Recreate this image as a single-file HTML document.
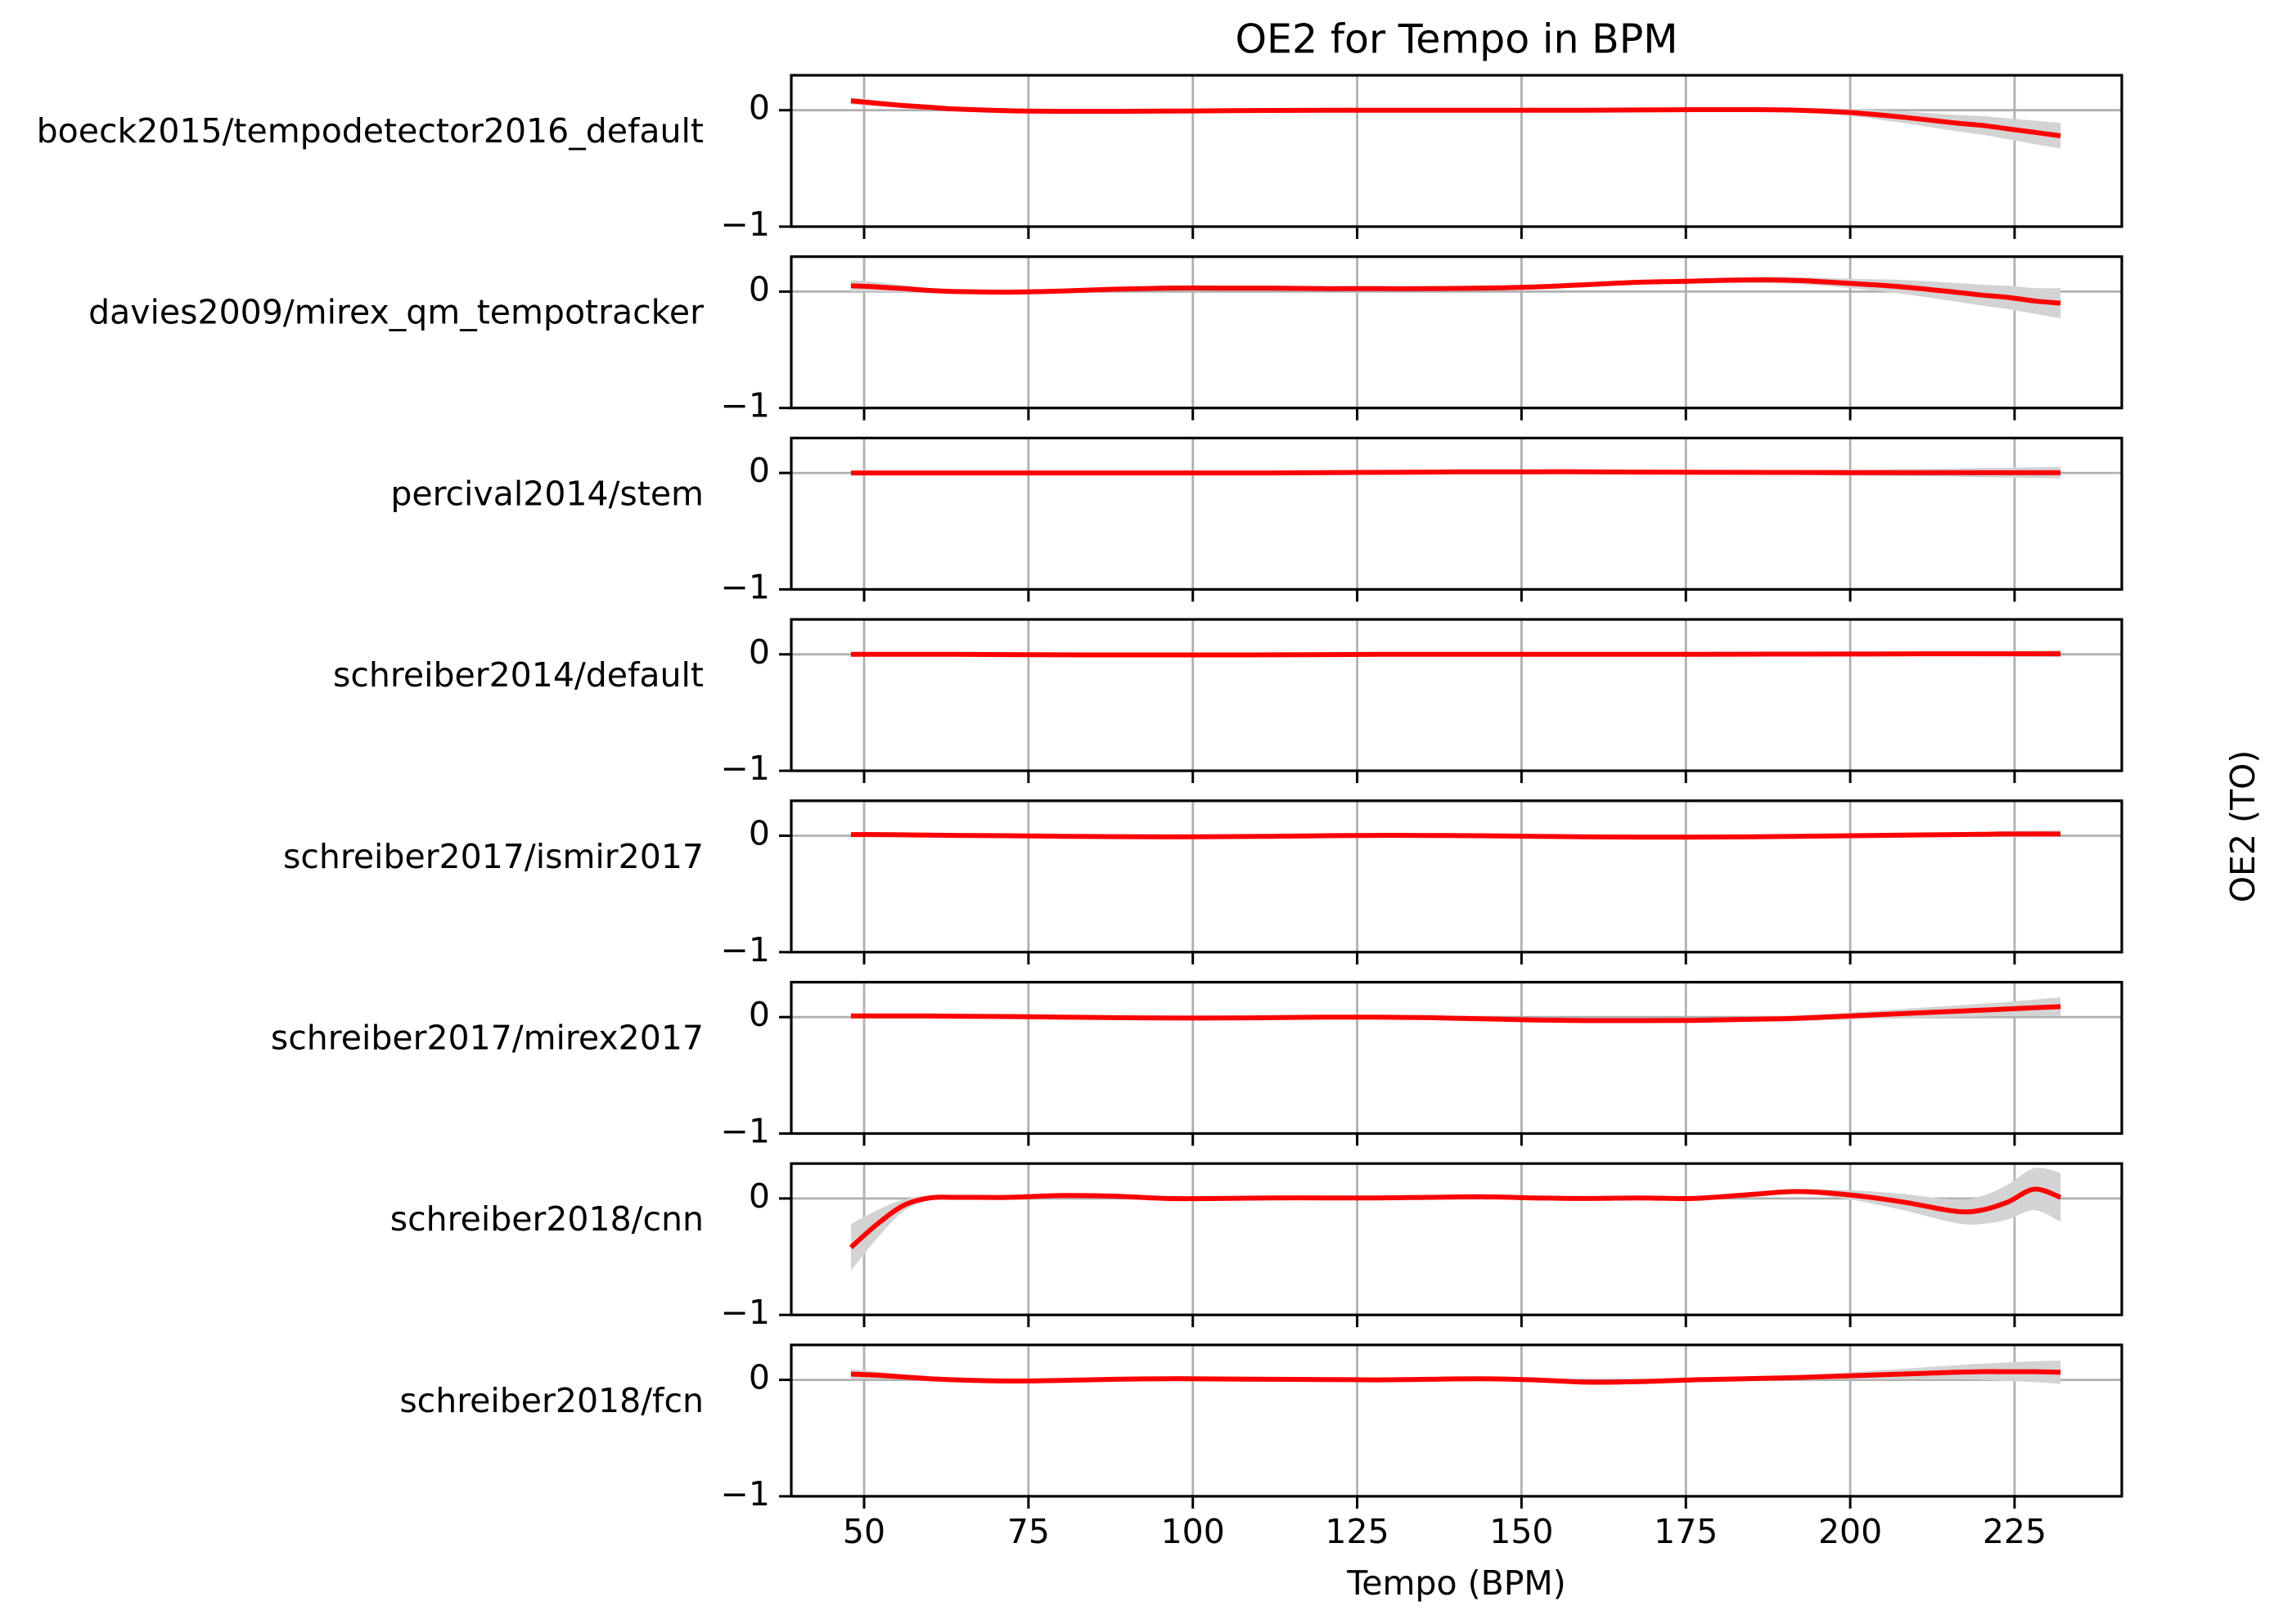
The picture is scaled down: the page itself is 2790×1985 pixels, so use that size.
<!DOCTYPE html>
<html><head><meta charset="utf-8"><style>
html,body{margin:0;padding:0;background:#fff;}
svg{display:block;font-family:"DejaVu Sans","Liberation Sans",sans-serif;}
</style></head><body>
<svg id="chart" width="2790" height="1985" viewBox="0 0 2790 1985" xmlns="http://www.w3.org/2000/svg">
<rect width="2790" height="1985" fill="#fff"/>
<text x="1780" y="51" font-size="49" text-anchor="middle" dominant-baseline="middle">OE2 for Tempo in BPM</text>
<text x="1780" y="1938" font-size="41" text-anchor="middle" dominant-baseline="middle">Tempo (BPM)</text>
<text x="0" y="0" font-size="41" text-anchor="middle" dominant-baseline="middle" transform="translate(2744,1010) rotate(-90)">OE2 (TO)</text>
<g id="panels"></g>
</svg>
<script>
const bpms = [48,52,56,60,64,72,80,88,96,104,112,120,128,136,144,152,160,168,176,184,192,200,208,216,220,224,228,232];
const systems = ["boeck2015/tempodetector2016_default","davies2009/mirex_qm_tempotracker","percival2014/stem","schreiber2014/default","schreiber2017/ismir2017","schreiber2017/mirex2017","schreiber2018/cnn","schreiber2018/fcn"];
const xTicks = [50,75,100,125,150,175,200,225];
const yTicks = [0,-1];
const boeckVals = [.08,.06,.04,.025,.01,-.005,-.01,-.01,-.008,-.005,-.002,0,0,0,0,0,0,.002,.005,.005,0,-.02,-.06,-.11,-.13,-.16,-.19,-.22];
const boeckBand = [.03,.025,.02,.015,.012,.01,.01,.01,.01,.01,.01,.01,.01,.01,.01,.01,.01,.01,.01,.015,.02,.03,.05,.07,.08,.09,.1,.11];
const daviesVals = [.05,.04,.025,.01,0,-.005,.005,.02,.03,.03,.03,.025,.025,.025,.03,.04,.06,.08,.09,.1,.095,.07,.04,-.005,-.03,-.05,-.08,-.1];
const daviesBand = [.05,.04,.03,.02,.015,.01,.01,.01,.01,.01,.01,.01,.01,.01,.01,.01,.015,.015,.02,.025,.03,.04,.06,.08,.09,.1,.11,.13];
const percivalVals = [0,0,0,0,0,0,0,0,0,0,0,.003,.005,.008,.01,.01,.01,.008,.006,.005,.004,.003,.003,.003,.003,.003,.003,.003];
const percivalBand = [.006,.005,.005,.005,.005,.005,.005,.005,.005,.005,.005,.005,.005,.005,.006,.007,.008,.01,.012,.015,.02,.025,.03,.035,.04,.042,.045,.05];
const s2014Vals = [0,0,0,0,0,-.002,-.004,-.005,-.005,-.005,-.004,-.002,0,0,0,0,0,0,0,.001,.002,.003,.004,.005,.005,.005,.005,.005];
const s2014Band = [.005,.005,.005,.005,.005,.005,.005,.005,.005,.005,.005,.005,.005,.005,.005,.005,.006,.007,.008,.01,.012,.015,.018,.02,.022,.024,.026,.03];
const ismirVals = [.01,.01,.008,.005,.003,0,-.005,-.008,-.01,-.008,-.005,0,.003,.002,0,-.005,-.01,-.012,-.012,-.01,-.005,0,.005,.01,.012,.015,.015,.015];
const ismirBand = [.006,.005,.005,.005,.005,.005,.005,.005,.005,.005,.005,.005,.005,.005,.005,.005,.006,.007,.008,.01,.012,.015,.018,.02,.022,.025,.028,.03];
const mirexVals = [.01,.01,.01,.01,.008,.005,0,-.005,-.008,-.008,-.005,0,0,-.005,-.015,-.025,-.03,-.03,-.028,-.02,-.01,.01,.03,.05,.06,.07,.08,.09];
const mirexBand = [.008,.007,.006,.006,.006,.006,.006,.006,.006,.006,.006,.006,.006,.006,.007,.008,.01,.012,.015,.02,.025,.03,.04,.05,.055,.06,.07,.08];
const cnnVals = [-.42,-.22,-.06,.005,.01,.01,.025,.02,0,0,.005,.005,.005,.01,.015,.005,0,.005,0,.03,.06,.03,-.03,-.11,-.1,-.03,.08,.01];
const cnnBand = [.2,.12,.05,.02,.015,.01,.01,.01,.01,.01,.01,.01,.01,.01,.01,.01,.01,.01,.01,.015,.02,.04,.07,.1,.12,.15,.18,.21];
const fcnVals = [.05,.04,.025,.01,0,-.01,-.005,.005,.01,.008,.005,.003,0,.005,.01,0,-.02,-.015,0,.01,.02,.035,.05,.065,.07,.07,.07,.065];
const fcnBand = [.04,.03,.02,.015,.01,.01,.01,.01,.01,.01,.01,.01,.01,.01,.01,.01,.01,.01,.012,.015,.02,.03,.045,.06,.07,.08,.09,.1];
const series = [boeckVals,daviesVals,percivalVals,s2014Vals,ismirVals,mirexVals,cnnVals,fcnVals];
const bands = [boeckBand,daviesBand,percivalBand,s2014Band,ismirBand,mirexBand,cnnBand,fcnBand];

const NS = "http://www.w3.org/2000/svg";
const L = 967, R = 2593, T0 = 92, H = 185, STEP = 221.7;
const YMIN = -1, YMAX = 0.3;
function xs(b){ return 1056 + (b - 50) * 8.034; }
function ysFor(top){ return v => top + (YMAX - v) / (YMAX - YMIN) * H; }
function mk(tag, attrs, parent){ const e = document.createElementNS(NS, tag); for (const k in attrs) e.setAttribute(k, attrs[k]); parent.appendChild(e); return e; }
function smooth(pts){
  let d = "M" + pts[0][0].toFixed(1) + "," + pts[0][1].toFixed(1);
  for (let i = 0; i < pts.length - 1; i++){
    const p0 = pts[i-1] || pts[i], p1 = pts[i], p2 = pts[i+1], p3 = pts[i+2] || p2;
    const c1 = [p1[0] + (p2[0]-p0[0])/6, p1[1] + (p2[1]-p0[1])/6];
    const c2 = [p2[0] - (p3[0]-p1[0])/6, p2[1] - (p3[1]-p1[1])/6];
    d += " C" + c1[0].toFixed(1)+","+c1[1].toFixed(1)+" "+c2[0].toFixed(1)+","+c2[1].toFixed(1)+" "+p2[0].toFixed(1)+","+p2[1].toFixed(1);
  }
  return d;
}
const root = document.getElementById("panels");
systems.forEach((name, i) => {
  const top = T0 + i * STEP, ys = ysFor(top);
  const g = mk("g", {}, root);
  
  
  xTicks.forEach(t => {
    const gl = mk("line", {x1: xs(t), x2: xs(t), y1: top, y2: top + H, stroke: "#b0b0b0", "stroke-width": 2.8}, g);
    
    
    const tk = mk("line", {x1: xs(t), x2: xs(t), y1: top + H, y2: top + H + 15, stroke: "#000", "stroke-width": 3}, g);
    
    
  });
  yTicks.forEach(t => {
    if (t === 0){
      const gl = mk("line", {x1: L, x2: R, y1: ys(t), y2: ys(t), stroke: "#b0b0b0", "stroke-width": 2.8}, g);
      
      
    }
    const tk = mk("line", {x1: L - 15, x2: L, y1: ys(t), y2: ys(t), stroke: "#000", "stroke-width": 3}, g);
    
    
    const tl = mk("text", {x: L - 26, y: ys(t), "font-size": 41, "text-anchor": "end", "dominant-baseline": "middle"}, g);
    tl.textContent = t === 0 ? "0" : "\u22121";
    
    
  });
  const vals = series[i], band = bands[i];
  const up = bpms.map((b, k) => [xs(b), ys(vals[k] + band[k])]);
  const lo = bpms.map((b, k) => [xs(b), ys(vals[k] - band[k])]).reverse();
  const bd = smooth(up) + " L" + smooth(lo).slice(1) + " Z";
  const bp = mk("path", {d: bd, fill: "#d3d3d3", stroke: "none"}, g);
  
  
  const ln = mk("path", {d: smooth(bpms.map((b, k) => [xs(b), ys(vals[k])])), fill: "none", stroke: "#ff0000", "stroke-width": 6, "stroke-linejoin": "round"}, g);
  
  
  const fr = mk("rect", {x: L, y: top, width: R - L, height: H, fill: "none", stroke: "#000", "stroke-width": 3.2}, g);
  
  
  const lab = mk("text", {x: 860, y: top + 71, "font-size": 41, "text-anchor": "end", "dominant-baseline": "middle"}, g);
  lab.textContent = name;
  
  
  if (i === systems.length - 1){
    xTicks.forEach(t => {
      const xl = mk("text", {x: xs(t), y: top + H + 46, "font-size": 41, "text-anchor": "middle", "dominant-baseline": "middle"}, g);
      xl.textContent = String(t);
      
      
    });
  }
});
</script>
</body></html>
